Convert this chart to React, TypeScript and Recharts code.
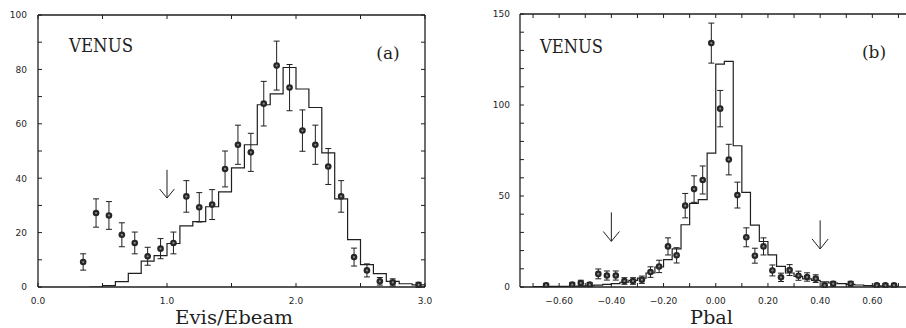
import React from 'react';
import { ComposedChart, Line, Scatter, ErrorBar, XAxis, YAxis, ReferenceLine } from 'recharts';

const INK = '#1f1f1f';
const TICK_FONT = '"DejaVu Sans", sans-serif';
const TITLE_FONT = '"DejaVu Serif", serif';

// ---- panel (a): Evis/Ebeam ----
const evisCenters = [0.35, 0.45, 0.55, 0.65, 0.75, 0.85, 0.95, 1.05, 1.15, 1.25, 1.35, 1.45, 1.55, 1.65, 1.75, 1.85, 1.95, 2.05, 2.15, 2.25, 2.35, 2.45, 2.55, 2.65, 2.75, 2.95];
const evisCounts = [9.2, 27.2, 26.3, 19.2, 16.2, 11.3, 14.1, 16.2, 33.3, 29.3, 30.3, 43.4, 52.3, 49.5, 67.4, 81.4, 73.3, 57.5, 52.3, 44.3, 33.3, 11.0, 6.1, 2.1, 1.7, 0.8];
const evisErrors = [3.0, 5.2, 5.1, 4.4, 4.0, 3.3, 3.7, 4.0, 5.8, 5.4, 5.5, 6.6, 7.2, 7.0, 8.2, 9.0, 8.5, 7.6, 7.2, 6.6, 5.8, 3.3, 2.4, 1.4, 1.3, 0.9];
const evisMcEdges = [0.4, 0.5, 0.6, 0.7, 0.8, 0.9, 1.0, 1.1, 1.2, 1.3, 1.4, 1.5, 1.6, 1.7, 1.8, 1.9, 2.0, 2.1, 2.2, 2.3, 2.4, 2.5, 2.6, 2.7, 2.8, 2.9, 3.0];
const evisMcLevels = [0, 0.5, 2, 5, 9.5, 11.5, 16, 22.5, 24, 29.5, 35, 43.8, 52.3, 67, 71, 80.7, 72.8, 66, 49.3, 32.4, 17.4, 8.2, 4.9, 2.1, 1.2, 0.8, 0.8];
const evisTicksX = [0, 0.5, 1, 1.5, 2, 2.5, 3];
const evisTicksY = [0, 10, 20, 30, 40, 50, 60, 70, 80, 90, 100];

// ---- panel (b): Pbal ----
const pbalCenters = [-0.65, -0.55, -0.517, -0.483, -0.45, -0.417, -0.383, -0.35, -0.317, -0.283, -0.25, -0.217, -0.183, -0.15, -0.117, -0.083, -0.05, -0.017, 0.017, 0.05, 0.083, 0.117, 0.15, 0.183, 0.217, 0.25, 0.283, 0.317, 0.35, 0.383, 0.417, 0.45, 0.517, 0.617, 0.65, 0.683];
const pbalCounts = [1, 1.3, 2.2, 1.3, 7.2, 6.3, 6.3, 3.3, 3.3, 4, 8.2, 11.3, 22.3, 17.4, 44.7, 53.8, 58.8, 134, 98, 70, 50.5, 27.3, 17.2, 22.3, 9.1, 5.3, 9.3, 6.2, 5.5, 4.6, 0.9, 1.8, 1.8, 0.9, 0.9, 0.9];
const pbalErrors = [1, 1.1, 1.5, 1.1, 2.7, 2.5, 2.5, 1.8, 1.8, 2, 2.9, 3.4, 4.7, 4.2, 6.7, 7.3, 7.7, 11, 10, 8.4, 7.1, 5.2, 4.1, 4.7, 3, 2.3, 3, 2.5, 2.3, 2.1, 1, 1.3, 1.3, 1, 1, 1];
const pbalMcEdges = [-0.7, -0.667, -0.633, -0.6, -0.567, -0.533, -0.5, -0.467, -0.433, -0.4, -0.367, -0.333, -0.3, -0.267, -0.233, -0.2, -0.167, -0.133, -0.1, -0.067, -0.033, 0, 0.033, 0.067, 0.1, 0.133, 0.167, 0.2, 0.233, 0.267, 0.3, 0.333, 0.367, 0.4, 0.433, 0.467, 0.5, 0.533, 0.567, 0.6, 0.633, 0.667, 0.7];
const pbalMcLevels = [0.2, 0.2, 0.3, 0.3, 0.4, 0.5, 0.7, 1.0, 1.4, 1.9, 2.6, 3.6, 4.9, 7.7, 11, 15, 20.9, 34.2, 46, 48, 73.6, 122.5, 124, 77.6, 52, 34, 25, 17.7, 11.3, 7.7, 5.8, 4.5, 3.6, 2.8, 2.2, 1.8, 1.4, 1.1, 0.8, 0.6, 0.5, 0.4, 0.3];
const pbalTicksX = [-0.7, -0.6, -0.5, -0.4, -0.3, -0.2, -0.1, 0, 0.1, 0.2, 0.3, 0.4, 0.5, 0.6, 0.7];
const pbalTicksY = [0, 10, 20, 30, 40, 50, 60, 70, 80, 90, 100, 110, 120, 130, 140, 150];

const evisPoints = evisCenters.map((x, i) => ({ x, y: evisCounts[i], err: evisErrors[i] }));
const evisMc = evisMcEdges.map((x, i) => ({ x, y: evisMcLevels[i] }));
const pbalPoints = pbalCenters.map((x, i) => ({ x, y: pbalCounts[i], err: pbalErrors[i] }));
const pbalMc = pbalMcEdges.map((x, i) => ({ x, y: pbalMcLevels[i] }));

type Side = 'bottom' | 'top' | 'left' | 'right';

// inward tick marks, label only where fmt returns text
function makeTick(side: Side, fmt: (v: number) => string | null, gap = 10) {
  return (props: any) => {
    const { x, y, payload } = props;
    const len = 4;
    const label = fmt(payload.value);
    let line;
    if (side === 'bottom') line = { x1: x, y1: y, x2: x, y2: y - len };
    else if (side === 'top') line = { x1: x, y1: y, x2: x, y2: y + len };
    else if (side === 'left') line = { x1: x, y1: y, x2: x + len, y2: y };
    else line = { x1: x, y1: y, x2: x - len, y2: y };
    return (
      <g>
        <line {...line} stroke={INK} strokeWidth={1} />
        {label != null && side === 'bottom' && (
          <text x={x} y={y + 17} textAnchor="middle" fontSize={9} fontFamily={TICK_FONT} fill={INK}>
            {label}
          </text>
        )}
        {label != null && side === 'left' && (
          <text x={x - gap} y={y + 3.3} textAnchor="end" fontSize={9} fontFamily={TICK_FONT} fill={INK}>
            {label}
          </text>
        )}
      </g>
    );
  };
}

const Dot = (props: any) => {
  const { cx, cy } = props;
  if (cx == null || cy == null) return <g />;
  return (
    <g>
      <circle cx={cx} cy={cy} r={3.3} fill="#262626" />
      <circle cx={cx} cy={cy} r={1.1} fill="#8c8c8c" />
    </g>
  );
};

const none = () => null;
const evisFmtX = (v: number) => (Number.isInteger(v) ? v.toFixed(1) : null);
const evisFmtY = (v: number) => (v % 20 === 0 ? String(v) : null);
const pbalFmtX = (v: number) => {
  const k = Math.round(v * 10);
  if (k % 2 !== 0 || Math.abs(k) > 6) return null;
  return (v < 0 ? '\u2212' : '') + Math.abs(v).toFixed(2);
};
const pbalFmtY = (v: number) => (v % 50 === 0 ? String(v) : null);

const axisLine = { stroke: INK, strokeWidth: 1.3 };

function Arrow({ x, top, tip, head, half, xId, yId }: any) {
  return (
    <>
      <ReferenceLine xAxisId={xId} yAxisId={yId} segment={[{ x, y: top }, { x, y: tip }]} stroke={INK} strokeWidth={1} />
      <ReferenceLine xAxisId={xId} yAxisId={yId} segment={[{ x: x - half, y: head }, { x, y: tip }]} stroke={INK} strokeWidth={1} />
      <ReferenceLine xAxisId={xId} yAxisId={yId} segment={[{ x: x + half, y: head }, { x, y: tip }]} stroke={INK} strokeWidth={1} />
    </>
  );
}

function EvisChart() {
  return (
    <ComposedChart width={440} height={328} margin={{ top: 10, right: 10, bottom: 11, left: 8 }}>
      <XAxis xAxisId="b" dataKey="x" type="number" domain={[0, 3]} ticks={evisTicksX} interval={0}
        orientation="bottom" height={30} tickSize={0} tickMargin={0} axisLine={axisLine} tickLine={false}
        tick={makeTick('bottom', evisFmtX)} allowDataOverflow />
      <XAxis xAxisId="t" dataKey="x" type="number" domain={[0, 3]} ticks={evisTicksX} interval={0}
        orientation="top" height={5} tickSize={0} tickMargin={0} axisLine={axisLine} tickLine={false}
        tick={makeTick('top', none)} allowDataOverflow />
      <YAxis yAxisId="l" type="number" domain={[0, 100]} ticks={evisTicksY} interval={0} width={30}
        tickSize={0} tickMargin={0} axisLine={axisLine} tickLine={false}
        tick={makeTick('left', evisFmtY, 11)} allowDataOverflow />
      <YAxis yAxisId="r" orientation="right" type="number" domain={[0, 100]} ticks={evisTicksY} interval={0} width={5}
        tickSize={0} tickMargin={0} axisLine={axisLine} tickLine={false}
        tick={makeTick('right', none)} allowDataOverflow />
      <Line xAxisId="b" yAxisId="l" data={evisMc} dataKey="y" type="stepAfter" stroke={INK} strokeWidth={1.2}
        dot={false} isAnimationActive={false} />
      <Scatter xAxisId="b" yAxisId="l" data={evisPoints} dataKey="y" shape={<Dot />} isAnimationActive={false}>
        <ErrorBar dataKey="err" direction="y" width={3} stroke={INK} strokeWidth={1} />
      </Scatter>
      {Arrow({ x: 1.0, top: 43.1, tip: 32.7, head: 36.0, half: 0.057, xId: 'b', yId: 'l' })}
    </ComposedChart>
  );
}

function PbalChart() {
  return (
    <ComposedChart width={460} height={328} margin={{ top: 9, right: 10, bottom: 11, left: 10 }}>
      <XAxis xAxisId="b" dataKey="x" type="number" domain={[-0.75, 0.75]} ticks={pbalTicksX} interval={0}
        orientation="bottom" height={30} tickSize={0} tickMargin={0} axisLine={axisLine} tickLine={false}
        tick={makeTick('bottom', pbalFmtX)} allowDataOverflow />
      <XAxis xAxisId="t" dataKey="x" type="number" domain={[-0.75, 0.75]} ticks={pbalTicksX} interval={0}
        orientation="top" height={5} tickSize={0} tickMargin={0} axisLine={axisLine} tickLine={false}
        tick={makeTick('top', none)} allowDataOverflow />
      <YAxis yAxisId="l" type="number" domain={[0, 150]} ticks={pbalTicksY} interval={0} width={40}
        tickSize={0} tickMargin={0} axisLine={axisLine} tickLine={false}
        tick={makeTick('left', pbalFmtY, 10)} allowDataOverflow />
      <YAxis yAxisId="r" orientation="right" type="number" domain={[0, 150]} ticks={pbalTicksY} interval={0} width={8.5}
        tickSize={0} tickMargin={0} axisLine={axisLine} tickLine={false}
        tick={makeTick('right', none)} allowDataOverflow />
      <Line xAxisId="b" yAxisId="l" data={pbalMc} dataKey="y" type="stepAfter" stroke={INK} strokeWidth={1.2}
        dot={false} isAnimationActive={false} />
      <Scatter xAxisId="b" yAxisId="l" data={pbalPoints} dataKey="y" shape={<Dot />} isAnimationActive={false}>
        <ErrorBar dataKey="err" direction="y" width={3} stroke={INK} strokeWidth={1} />
      </Scatter>
      {Arrow({ x: -0.4, top: 41, tip: 25.1, head: 30.5, half: 0.031, xId: 'b', yId: 'l' })}
      {Arrow({ x: 0.4, top: 36.6, tip: 20.9, head: 26.4, half: 0.031, xId: 'b', yId: 'l' })}
    </ComposedChart>
  );
}

export default function App() {
  return (
    <div style={{ position: 'fixed', left: 0, top: 0, width: 906, height: 328, overflow: 'hidden', background: '#fff' }}>
      <div style={{ position: 'absolute', left: 0, top: 0 }}>
        <EvisChart />
      </div>
      <div style={{ position: 'absolute', left: 470, top: 0 }}>
        <PbalChart />
      </div>
      <svg width={906} height={328} style={{ position: 'absolute', left: 0, top: 0, pointerEvents: 'none' }}>
        <g fontFamily={TITLE_FONT} fill={INK}>
          <text x={69} y={51.5} fontSize={18} textLength={64} lengthAdjust="spacingAndGlyphs">VENUS</text>
          <text x={388} y={58.5} fontSize={17} textAnchor="middle">(a)</text>
          <text x={540} y={52.5} fontSize={18} textLength={63} lengthAdjust="spacingAndGlyphs">VENUS</text>
          <text x={874} y={57.5} fontSize={17} textAnchor="middle">(b)</text>
          <text x={175} y={323.5} fontSize={18} textLength={118} lengthAdjust="spacingAndGlyphs">Evis/Ebeam</text>
          <text x={690} y={323.5} fontSize={18} textLength={43} lengthAdjust="spacingAndGlyphs">Pbal</text>
        </g>
      </svg>
    </div>
  );
}
